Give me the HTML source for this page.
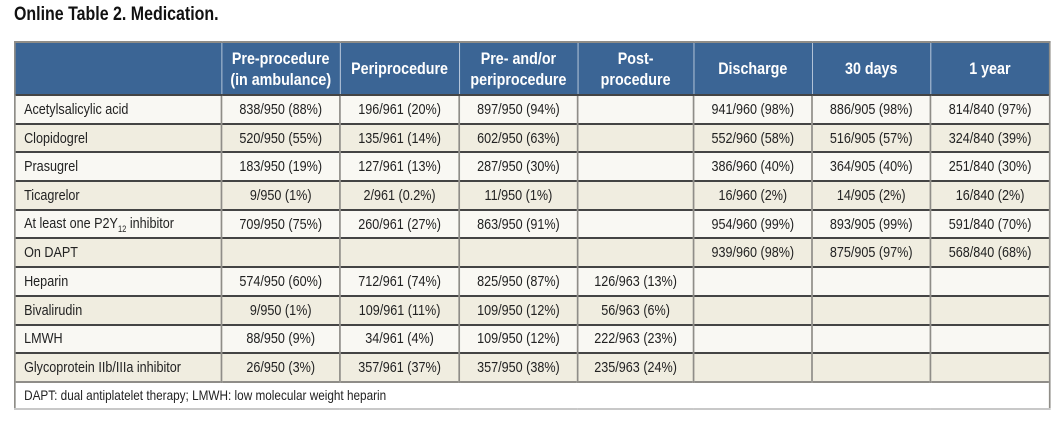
<!DOCTYPE html>
<html><head><meta charset="utf-8"><style>
body{margin:0;width:1064px;height:421px;background:#fff;font-family:"Liberation Sans Narrow","Liberation Sans",sans-serif;position:relative;overflow:hidden}
.t{position:absolute;left:14px;top:4px;font-weight:bold;font-size:19px;color:#111;transform:scaleX(0.84);transform-origin:0 0;white-space:nowrap}
table{position:absolute;left:14px;top:41px;border-collapse:collapse;table-layout:fixed;width:1232px;transform:scaleX(0.84);transform-origin:0 0}
td,th{font-size:15px;color:#222;padding:0;text-align:center;border-left:2px solid #8f8d88;border-top:2px solid #444;height:26.7px;white-space:nowrap}
th{background:#3b6595;color:#fff;font-size:17px;font-weight:bold;height:51px;line-height:21px;border-left:1px solid #c8d4e4;border-top:2px solid #8f8d88}
th:first-child{border-left:2px solid #8f8d88}
td:first-child{text-align:left;padding-left:10px}
tr:nth-child(even) td{background:#f9f8f3}
tr:nth-child(odd) td{background:#f0ede0}
td:last-child,th:last-child{border-right:2px solid #8f8d88}
tr.f td{background:#fff;border-top:2px solid #8f8d88;border-bottom:2px solid #c8c8c8;text-align:left;height:25px;font-size:14px}
sub{font-size:9px}
</style></head><body>
<div class="t">Online Table 2. Medication.</div>
<table>
<colgroup><col style="width:246px"><col style="width:141px"><col style="width:142px"><col style="width:141px"><col style="width:138px"><col style="width:141px"><col style="width:141px"><col style="width:142px"></colgroup>
<tr><th></th><th>Pre-procedure<br>(in ambulance)</th><th>Periprocedure</th><th>Pre- and/or<br>periprocedure</th><th>Post-<br>procedure</th><th>Discharge</th><th>30 days</th><th>1 year</th></tr>
<tr><td>Acetylsalicylic acid</td><td>838/950 (88%)</td><td>196/961 (20%)</td><td>897/950 (94%)</td><td></td><td>941/960 (98%)</td><td>886/905 (98%)</td><td>814/840 (97%)</td></tr>
<tr><td>Clopidogrel</td><td>520/950 (55%)</td><td>135/961 (14%)</td><td>602/950 (63%)</td><td></td><td>552/960 (58%)</td><td>516/905 (57%)</td><td>324/840 (39%)</td></tr>
<tr><td>Prasugrel</td><td>183/950 (19%)</td><td>127/961 (13%)</td><td>287/950 (30%)</td><td></td><td>386/960 (40%)</td><td>364/905 (40%)</td><td>251/840 (30%)</td></tr>
<tr><td>Ticagrelor</td><td>9/950 (1%)</td><td>2/961 (0.2%)</td><td>11/950 (1%)</td><td></td><td>16/960 (2%)</td><td>14/905 (2%)</td><td>16/840 (2%)</td></tr>
<tr><td>At least one P2Y<sub>12</sub> inhibitor</td><td>709/950 (75%)</td><td>260/961 (27%)</td><td>863/950 (91%)</td><td></td><td>954/960 (99%)</td><td>893/905 (99%)</td><td>591/840 (70%)</td></tr>
<tr><td>On DAPT</td><td></td><td></td><td></td><td></td><td>939/960 (98%)</td><td>875/905 (97%)</td><td>568/840 (68%)</td></tr>
<tr><td>Heparin</td><td>574/950 (60%)</td><td>712/961 (74%)</td><td>825/950 (87%)</td><td>126/963 (13%)</td><td></td><td></td><td></td></tr>
<tr><td>Bivalirudin</td><td>9/950 (1%)</td><td>109/961 (11%)</td><td>109/950 (12%)</td><td>56/963 (6%)</td><td></td><td></td><td></td></tr>
<tr><td>LMWH</td><td>88/950 (9%)</td><td>34/961 (4%)</td><td>109/950 (12%)</td><td>222/963 (23%)</td><td></td><td></td><td></td></tr>
<tr><td>Glycoprotein IIb/IIIa inhibitor</td><td>26/950 (3%)</td><td>357/961 (37%)</td><td>357/950 (38%)</td><td>235/963 (24%)</td><td></td><td></td><td></td></tr>
<tr class="f"><td colspan="8">DAPT: dual antiplatelet therapy; LMWH: low molecular weight heparin</td></tr>
</table>
</body></html>
